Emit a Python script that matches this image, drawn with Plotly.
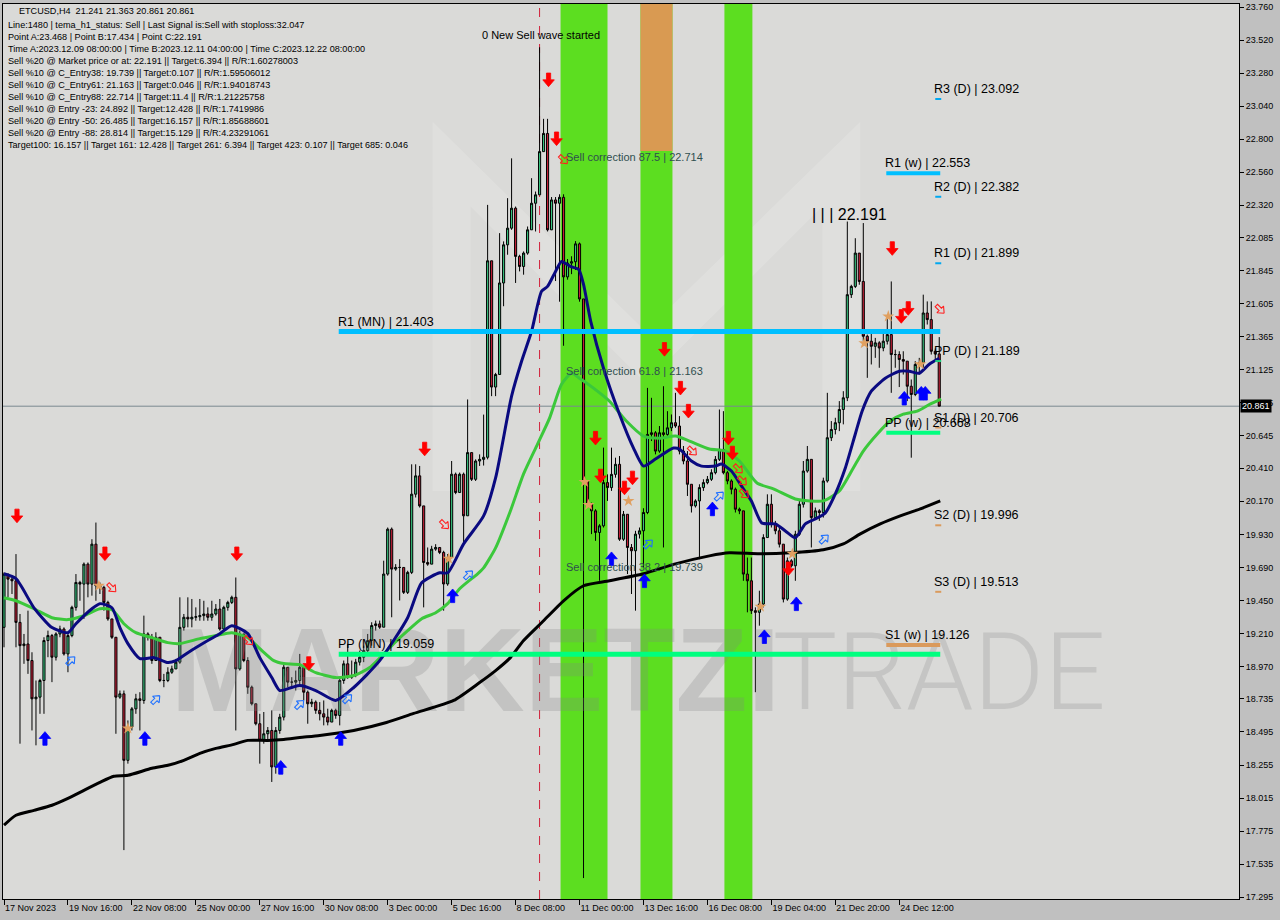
import math
import plotly.graph_objects as go

# ---------------- data ----------------
x_tick_bars = [0, 16, 32, 48, 64, 80, 96, 112, 128, 144, 160, 176, 192, 208, 224]
x_tick_text = ["17 Nov 2023", "19 Nov 16:00", "22 Nov 08:00", "25 Nov 00:00", "27 Nov 16:00",
               "30 Nov 08:00", "3 Dec 00:00", "5 Dec 16:00", "8 Dec 08:00", "11 Dec 00:00",
               "13 Dec 16:00", "16 Dec 08:00", "19 Dec 04:00", "21 Dec 20:00", "24 Dec 12:00"]
y_ticks = [23.760, 23.520, 23.280, 23.040, 22.800, 22.560, 22.320, 22.085, 21.845, 21.605,
           21.365, 21.125, 20.885, 20.645, 20.410, 20.170, 19.930, 19.690, 19.450, 19.210,
           18.970, 18.735, 18.495, 18.255, 18.015, 17.775, 17.535, 17.295]

first_open = 19.255
close = [19.642, 19.605, 19.593, 19.291, 19.122, 19.134, 19.014, 18.736, 18.748, 18.869,
         19.159, 19.195, 19.038, 19.207, 19.243, 19.062, 19.195, 19.400, 19.581, 19.569,
         19.714, 19.569, 19.859, 19.557, 19.545, 19.436, 19.316, 19.183, 18.748, 18.772,
         18.289, 18.531, 18.663, 18.736, 18.724, 19.207, 19.183, 19.014, 19.183, 18.869,
         18.869, 18.929, 18.953, 19.002, 19.255, 19.328, 19.316, 19.328, 19.332, 19.340,
         19.352, 19.328, 19.352, 19.388, 19.243, 19.400, 19.436, 19.473, 18.953, 19.207,
         19.014, 18.820, 18.700, 18.555, 18.434, 18.482, 18.506, 18.241, 18.506, 18.603,
         18.965, 18.857, 18.857, 18.869, 18.965, 18.784, 18.700, 18.712, 18.652, 18.627,
         18.603, 18.567, 18.652, 18.615, 18.869, 18.990, 18.893, 18.905, 19.002, 19.038,
         19.086, 19.159, 19.268, 19.280, 19.256, 19.642, 19.968, 19.678, 19.690, 19.690,
         19.509, 19.654, 20.222, 20.355, 20.137, 19.726, 19.714, 19.823, 19.835, 19.799,
         19.570, 19.763, 20.367, 20.234, 20.367, 20.065, 20.524, 20.330, 20.463, 20.475,
         20.490, 21.917, 21.000, 21.091, 21.756, 22.033, 22.154, 22.299, 21.949, 21.876,
         21.973, 22.142, 22.335, 22.396, 22.710, 22.842, 22.142, 22.359, 22.335, 22.378,
         21.800, 21.900, 21.910, 22.040, 21.640, 20.320, 20.149, 20.101, 19.944, 19.992,
         20.306, 20.270, 20.366, 20.439, 19.895, 20.076, 19.835, 19.811, 19.932, 19.956,
         20.089, 20.656, 20.668, 20.535, 20.668, 20.656, 20.704, 20.741, 20.717, 20.535,
         20.463, 20.294, 20.137, 20.173, 20.270, 20.306, 20.330, 20.378, 20.475, 20.547,
         20.378, 20.318, 20.258, 20.113, 20.101, 19.642, 19.593, 19.376, 19.364, 19.424,
         19.907, 20.149, 20.004, 19.956, 19.859, 19.460, 19.738, 19.702, 19.931, 20.149,
         20.390, 20.475, 20.052, 20.101, 20.089, 20.318, 20.632, 20.692, 20.741, 20.837,
         20.922, 21.671, 21.731, 21.973, 21.767, 21.369, 21.333, 21.296, 21.321, 21.284,
         21.333, 21.381, 21.236, 21.236, 21.200, 21.188, 21.006, 20.946, 21.164, 21.176,
         21.538, 21.490, 21.260, 21.241, 20.861]
high = [19.654, 19.630, 19.617, 19.787, 19.352, 19.207, 19.376, 19.074, 18.869, 18.881,
        19.183, 19.231, 19.207, 19.219, 19.267, 19.255, 19.207, 19.412, 19.642, 19.593,
        19.726, 19.726, 19.895, 20.016, 19.581, 19.557, 19.448, 19.316, 19.183, 18.796,
        18.796, 18.579, 18.676, 18.772, 18.784, 19.340, 19.219, 19.207, 19.219, 19.183,
        18.917, 18.965, 18.977, 19.026, 19.473, 19.352, 19.473, 19.461, 19.400, 19.461,
        19.448, 19.400, 19.448, 19.424, 19.461, 19.412, 19.448, 19.485, 19.617, 19.231,
        19.183, 19.038, 18.832, 18.700, 18.627, 18.640, 18.531, 18.652, 18.531, 18.627,
        18.990, 18.965, 18.893, 18.941, 19.062, 18.965, 18.796, 18.736, 18.724, 18.712,
        18.724, 18.664, 18.664, 18.664, 18.893, 19.014, 19.135, 19.014, 19.026, 19.086,
        19.122, 19.207, 19.292, 19.304, 19.304, 19.739, 19.980, 19.980, 19.714, 19.750,
        19.690, 19.666, 20.439, 20.439, 20.427, 20.137, 19.835, 19.847, 19.859, 19.835,
        19.811, 19.787, 20.463, 20.379, 20.379, 20.379, 20.910, 20.524, 20.475, 20.511,
        20.800, 22.323, 21.917, 21.103, 22.118, 22.058, 22.372, 22.661, 22.311, 21.961,
        21.985, 22.166, 22.517, 22.420, 23.468, 22.948, 22.948, 22.380, 22.380, 22.400,
        22.400, 21.930, 21.950, 22.060, 22.050, 21.640, 20.318, 20.161, 20.113, 20.004,
        20.560, 20.366, 20.560, 20.487, 20.499, 20.100, 20.016, 19.860, 19.956, 19.980,
        20.120, 20.994, 20.922, 20.680, 20.717, 21.006, 20.825, 20.801, 20.958, 20.789,
        20.572, 20.535, 20.294, 20.185, 20.294, 20.330, 20.354, 20.403, 20.499, 20.837,
        20.825, 20.391, 20.330, 20.270, 20.125, 20.040, 19.762, 19.762, 19.400, 19.521,
        19.931, 20.221, 20.221, 20.028, 19.980, 19.859, 19.762, 19.750, 19.956, 20.173,
        20.463, 20.572, 20.475, 20.125, 20.113, 20.342, 20.958, 20.753, 20.777, 20.898,
        20.970, 22.202, 21.743, 22.081, 21.973, 22.191, 21.381, 21.393, 21.357, 21.333,
        21.393, 21.514, 21.767, 21.272, 21.260, 21.260, 21.188, 21.055, 21.188, 21.212,
        21.671, 21.622, 21.622, 21.280, 21.363]
low = [19.110, 19.473, 19.497, 19.110, 18.410, 18.990, 18.917, 18.506, 18.398, 18.627,
       18.627, 19.038, 18.857, 19.014, 19.183, 19.050, 18.929, 19.183, 19.376, 19.448,
       19.316, 19.473, 19.485, 19.448, 19.497, 19.376, 19.303, 19.171, 18.482, 18.736,
       17.637, 18.265, 18.506, 18.627, 18.506, 18.700, 19.159, 18.990, 19.014, 18.857,
       18.820, 18.857, 18.917, 18.953, 18.990, 19.231, 19.255, 19.255, 19.303, 19.303,
       19.303, 19.303, 19.303, 19.340, 19.231, 19.231, 19.376, 19.424, 18.506, 18.941,
       19.002, 18.772, 18.688, 18.543, 18.265, 18.410, 18.434, 18.132, 18.192, 18.482,
       18.579, 18.820, 18.820, 18.796, 18.832, 18.724, 18.555, 18.676, 18.627, 18.579,
       18.543, 18.543, 18.567, 18.591, 18.543, 18.845, 18.881, 18.881, 18.893, 18.978,
       19.002, 19.062, 19.122, 19.231, 19.244, 19.256, 19.630, 19.328, 19.666, 19.450,
       19.497, 19.497, 19.642, 20.198, 20.125, 19.400, 19.702, 19.714, 19.811, 19.787,
       19.376, 19.557, 19.763, 20.222, 20.234, 19.871, 20.065, 20.318, 20.318, 20.427,
       20.430, 20.475, 20.934, 20.934, 21.091, 21.587, 21.961, 22.142, 21.756, 21.840,
       21.816, 21.961, 22.142, 22.130, 22.396, 22.710, 22.130, 22.140, 21.770, 21.620,
       21.300, 21.780, 21.820, 21.850, 21.620, 17.434, 20.125, 19.932, 19.883, 19.593,
       19.980, 20.173, 20.246, 20.342, 19.883, 19.883, 19.642, 19.497, 19.376, 19.900,
       19.690, 20.077, 20.608, 20.511, 20.523, 19.835, 20.644, 20.680, 20.704, 20.511,
       20.439, 20.209, 20.089, 20.125, 19.750, 20.246, 20.294, 20.318, 20.366, 20.463,
       20.366, 20.294, 20.221, 20.089, 20.077, 19.593, 19.364, 19.352, 18.784, 19.267,
       19.400, 19.907, 19.980, 19.931, 19.835, 19.436, 19.448, 19.690, 19.593, 19.919,
       20.125, 20.378, 19.835, 20.040, 20.028, 20.052, 20.306, 20.608, 20.656, 20.680,
       20.729, 20.898, 21.647, 21.719, 21.743, 21.333, 21.067, 21.164, 21.212, 21.140,
       21.260, 21.309, 20.958, 21.140, 21.000, 21.091, 20.898, 20.487, 20.934, 21.091,
       21.140, 21.454, 21.236, 21.200, 20.861]

# moving averages (bar position, price)
ma_blue_x = [0, 3, 7.5, 12, 16, 18, 22, 24, 27, 29, 31, 34, 37.5, 41, 43, 46, 51, 54, 57, 61,
             64, 67, 69, 72, 74, 78, 83, 87.5, 94, 101, 104.5, 109, 111, 115, 120, 123, 127,
             129.5, 132, 134.5, 136, 138, 139.5, 141.7, 143.8, 145, 146.8, 150, 154, 157.5,
             160, 163, 167.5, 169, 172, 174.5, 178, 179.5, 182, 184.5, 187, 189.6, 193, 195.5,
             198, 200.5, 203, 205.5, 208, 210.5, 213, 214.7, 217, 220.5, 224, 226.5, 229,
             231.5, 234]
ma_blue_y = [19.644, 19.608, 19.397, 19.253, 19.216, 19.281, 19.390, 19.427, 19.397, 19.253,
             19.137, 19.028, 19.035, 18.999, 19.013, 19.071, 19.159, 19.209, 19.267, 19.209,
             19.035, 18.890, 18.796, 18.818, 18.832, 18.796, 18.724, 18.818, 19.013, 19.325,
             19.579, 19.651, 19.651, 19.861, 20.064, 20.340, 20.934, 21.187, 21.405, 21.696,
             21.731, 21.840, 21.912, 21.876, 21.854, 21.745, 21.477, 21.137, 20.803, 20.557,
             20.426, 20.477, 20.557, 20.550, 20.463, 20.426, 20.426, 20.441, 20.390, 20.282,
             20.173, 20.013, 20.006, 19.955, 19.905, 20.006, 20.042, 20.086, 20.224, 20.412,
             20.659, 20.825, 20.970, 21.064, 21.115, 21.115, 21.100, 21.166, 21.209]
ma_green_x = [0, 3, 7.5, 12, 16, 20, 24, 27, 30, 33, 37, 41, 44, 49, 53, 57, 61, 64, 67.5, 70,
              74, 78, 83, 87.5, 91.5, 97.5, 101, 104.5, 108, 111, 114, 118.5, 120, 123, 126.7,
              130, 133.5, 136.5, 139.5, 142, 144, 147.5, 151.5, 155.7, 160, 164, 168, 171.5,
              176.5, 180.5, 184, 188.4, 192.5, 198, 201.6, 205, 209, 212.5, 215, 218.5, 221.7,
              225, 228.5, 231.7, 234.5]
ma_green_y = [19.470, 19.448, 19.390, 19.325, 19.311, 19.340, 19.390, 19.383, 19.281, 19.216,
              19.180, 19.144, 19.137, 19.173, 19.195, 19.216, 19.180, 19.100, 19.013, 18.992,
              18.984, 18.926, 18.890, 18.905, 18.963, 19.137, 19.231, 19.318, 19.361, 19.427,
              19.535, 19.644, 19.687, 19.832, 20.100, 20.369, 20.586, 20.774, 21.021, 21.100,
              21.064, 20.992, 20.897, 20.753, 20.644, 20.629, 20.644, 20.608, 20.550, 20.535,
              20.463, 20.303, 20.260, 20.187, 20.173, 20.173, 20.245, 20.412, 20.535, 20.659,
              20.753, 20.803, 20.825, 20.876, 20.912]
ma_black_x = [0, 3, 7.5, 12, 16, 20, 24, 27.5, 31, 37, 41, 45, 49, 53, 57.5, 61, 66, 70, 74, 79,
              87.5, 95.7, 102.5, 112.5, 119, 123, 126.7, 130, 135, 140, 145, 151.5, 160, 168,
              176.5, 181.5, 189, 196.75, 205, 210, 214.25, 219.25, 224.25, 229.25, 234.25]
ma_black_y = [17.818, 17.890, 17.926, 17.963, 18.013, 18.071, 18.129, 18.173, 18.180, 18.231,
              18.253, 18.289, 18.340, 18.376, 18.405, 18.434, 18.434, 18.441, 18.455, 18.470,
              18.506, 18.564, 18.630, 18.724, 18.854, 18.941, 19.035, 19.159, 19.303, 19.448,
              19.557, 19.593, 19.644, 19.716, 19.774, 19.796, 19.789, 19.796, 19.818, 19.861,
              19.934, 20.006, 20.064, 20.115, 20.173]

# pivot levels
monthly_names = ["R1 (MN)", "PP (MN)"]
monthly_levels = [21.403, 19.059]
weekly_names = ["R1 (w)", "PP (w)", "S1 (w)"]
weekly_levels = [22.553, 20.668, 19.126]
daily_names = ["R3 (D)", "R2 (D)", "R1 (D)", "PP (D)", "S1 (D)", "S2 (D)", "S3 (D)"]
daily_levels = [23.092, 22.382, 21.899, 21.189, 20.706, 19.996, 19.513]
corr_names = ["Sell correction 87.5", "Sell correction 61.8", "Sell correction 38.2"]
corr_levels = [22.714, 21.163, 19.739]

point_a_bar = 134
band_bars = [(139.25, 151.0), (159.25, 167.25), (180.25, 187.25)]
last_price = 20.861
point_c = 22.191

# signal markers (bar, price)
red_dn_x = [3.25, 25.25, 58.25, 76.25, 105.25, 136.25, 138.25, 148, 149.25, 155.25, 157.25,
            165.25, 169.25, 171.25, 181.25, 182.25, 196.25, 222.25, 224.5, 226.25]
red_dn_y = [20.064, 19.789, 19.789, 18.992, 20.550, 23.231, 22.803, 20.629, 20.354, 20.267,
            20.340, 21.274, 20.992, 20.825, 20.629, 20.521, 19.680, 22.006, 21.513, 21.571]
blue_up_x = [10.25, 35.25, 69.25, 84.25, 112.25, 152, 160.25, 177.25, 190.25, 198.25, 225.25,
             229.5, 230.5]
blue_up_y = [18.448, 18.448, 18.238, 18.448, 19.484, 19.753, 19.593, 20.115, 19.187, 19.426,
             20.919, 20.955, 20.955]
hollow_blue_x = [16.75, 38, 74, 86, 116.25, 161.25, 179, 205.25]
hollow_blue_y = [19.013, 18.731, 18.695, 18.738, 19.637, 19.861, 20.209, 19.897]
hollow_red_x = [27, 61.25, 110.25, 140, 172.25, 183.75, 184.75, 185.25, 234.25]
hollow_red_y = [19.542, 19.158, 20.000, 22.651, 20.535, 20.405, 20.318, 20.224, 21.564]
star_x = [23.75, 31, 111.25, 145.25, 146.25, 156.25, 189.25, 197.25, 215.25, 221.25, 229.25]
star_y = [19.557, 18.521, 19.753, 20.311, 20.144, 20.173, 19.405, 19.789, 21.318, 21.513, 21.166]

info_lines = [
    "ETCUSD,H4  21.241 21.363 20.861 20.861",
    "Line:1480 | tema_h1_status: Sell | Last Signal is:Sell with stoploss:32.047",
    "Point A:23.468 | Point B:17.434 | Point C:22.191",
    "Time A:2023.12.09 08:00:00 | Time B:2023.12.11 04:00:00 | Time C:2023.12.22 08:00:00",
    "Sell %20 @ Market price or at: 22.191 || Target:6.394 || R/R:1.60278003",
    "Sell %10 @ C_Entry38: 19.739 || Target:0.107 || R/R:1.59506012",
    "Sell %10 @ C_Entry61: 21.163 || Target:0.046 || R/R:1.94018743",
    "Sell %10 @ C_Entry88: 22.714 || Target:11.4 || R/R:1.21225758",
    "Sell %10 @ Entry -23: 24.892 || Target:12.428 || R/R:1.7419986",
    "Sell %20 @ Entry -50: 26.485 || Target:16.157 || R/R:1.85688601",
    "Sell %20 @ Entry -88: 28.814 || Target:15.129 || R/R:4.23291061",
    "Target100: 16.157 || Target 161: 12.428 || Target 261: 6.394 || Target 423: 0.107 || Target 685: 0.046",
]

# ---------------- figure ----------------
n = len(close)
bars = list(range(n))
opens = [first_open] + close[:-1]
hi = [max(h, o, c) for h, o, c in zip(high, opens, close)]
lo = [min(l, o, c) for l, o, c in zip(low, opens, close)]

FONT = "Liberation Sans"
PW, PH, PL, PT = 1237.0, 897.0, 2.0, 2.0
PX_PER_BAR = 4.0
PX_PER_PRICE = 138.0


def px(xp):
    return (xp - PL) / PW


def py(yp):
    return 1 - (yp - PT) / PH


# arrow glyph outline in screen pixels, pointing up, centred on (0, 0)
ARROW = [(0, -6.5), (5.5, 0), (2, 0), (2, 6.5), (-2, 6.5), (-2, 0), (-5.5, 0), (0, -6.5)]


def arrow_paths(xs, ys, angle, scale=1.0):
    ox, oy = [], []
    a = math.radians(angle)
    ca, sa = math.cos(a), math.sin(a)
    for cx, cy in zip(xs, ys):
        for dx, dy in ARROW:
            dx, dy = dx * scale, dy * scale
            rx = dx * ca - dy * sa
            ry = dx * sa + dy * ca
            ox.append(cx + rx / PX_PER_BAR)
            oy.append(cy - ry / PX_PER_PRICE)
        ox.append(None)
        oy.append(None)
    return ox, oy


fig = go.Figure()

# watermark (behind candles)
fig.add_trace(go.Scatter(x=[118.0], y=[18.86], mode="text", text=["MARKETZI"],
                         textfont=dict(family=FONT, size=118, color="rgba(130,130,130,0.26)", weight="bold"),
                         hoverinfo="skip", showlegend=False))
fig.add_trace(go.Scatter(x=[234.0], y=[18.86], mode="text", text=["TRADE"],
                         textfont=dict(family="Roboto", size=108, color="rgba(140,140,140,0.26)", weight=300),
                         hoverinfo="skip", showlegend=False))

fig.add_trace(go.Candlestick(
    x=bars, open=opens, high=hi, low=lo, close=close,
    increasing=dict(line=dict(color="black", width=1), fillcolor="#38C47F"),
    decreasing=dict(line=dict(color="black", width=1), fillcolor="#C42038"),
    whiskerwidth=0, hoverinfo="skip", showlegend=False))

fig.add_trace(go.Scatter(x=ma_black_x, y=ma_black_y, mode="lines",
                         line=dict(color="black", width=3, shape="spline", smoothing=0.6),
                         hoverinfo="skip", showlegend=False))
fig.add_trace(go.Scatter(x=ma_green_x, y=ma_green_y, mode="lines",
                         line=dict(color="#3BC83B", width=3, shape="spline", smoothing=0.6),
                         hoverinfo="skip", showlegend=False))
fig.add_trace(go.Scatter(x=ma_blue_x, y=ma_blue_y, mode="lines",
                         line=dict(color="#0A0A80", width=3, shape="spline", smoothing=0.6),
                         hoverinfo="skip", showlegend=False))

# pivot lines
m_colors = ["#00BFFF", "#00FF7F"]
for lvl, col in zip(monthly_levels, m_colors):
    fig.add_trace(go.Scatter(x=[83.75, 234.25], y=[lvl, lvl], mode="lines",
                             line=dict(color=col, width=5), hoverinfo="skip", showlegend=False))
w_colors = ["#00BFFF", "#00FF7F", "#DA9A5C"]
for lvl, col in zip(weekly_levels, w_colors):
    fig.add_trace(go.Scatter(x=[220.75, 234.25], y=[lvl, lvl], mode="lines",
                             line=dict(color=col, width=4), hoverinfo="skip", showlegend=False))
d_colors = ["#00A8F0", "#00A8F0", "#00A8F0", "#20D080", "#DA9A5C", "#DA9A5C", "#DA9A5C"]
for lvl, col in zip(daily_levels, d_colors):
    fig.add_trace(go.Scatter(x=[233.0, 234.5], y=[lvl, lvl], mode="lines",
                             line=dict(color=col, width=2), hoverinfo="skip", showlegend=False))

# hollow diagonal arrows
hx, hy = arrow_paths(hollow_blue_x, hollow_blue_y, 45, 0.85)
fig.add_trace(go.Scatter(x=hx, y=hy, mode="lines", line=dict(color="#1E70FF", width=1.1),
                         hoverinfo="skip", showlegend=False))
hx, hy = arrow_paths(hollow_red_x, hollow_red_y, 135, 0.85)
fig.add_trace(go.Scatter(x=hx, y=hy, mode="lines", line=dict(color="#FF2020", width=1.1),
                         hoverinfo="skip", showlegend=False))
# filled signal arrows
ax_, ay_ = arrow_paths(red_dn_x, red_dn_y, 180, 1.05)
fig.add_trace(go.Scatter(x=ax_, y=ay_, mode="lines", fill="toself", fillcolor="#FF0000",
                         line=dict(color="#FF0000", width=0.8), hoverinfo="skip", showlegend=False))
ax_, ay_ = arrow_paths(blue_up_x, blue_up_y, 0, 1.05)
fig.add_trace(go.Scatter(x=ax_, y=ay_, mode="lines", fill="toself", fillcolor="#0000FF",
                         line=dict(color="#0000FF", width=0.8), hoverinfo="skip", showlegend=False))
fig.add_trace(go.Scatter(x=star_x, y=star_y, mode="markers",
                         marker=dict(symbol="star", size=9, color="#E0A060",
                                     line=dict(width=0)),
                         hoverinfo="skip", showlegend=False))

shapes = []
# faint logo watermark in the background
logo_pts = [(432, 120), (645, 330), (860, 120), (860, 490), (822, 490), (822, 205),
            (645, 382), (470, 205), (470, 490), (432, 490)]
path = "M " + " L ".join(f"{px(a):.4f},{py(b):.4f}" for a, b in logo_pts) + " Z"
shapes.append(dict(type="path", xref="paper", yref="paper", path=path,
                   fillcolor="rgba(255,255,255,0.15)", line=dict(width=0), layer="below"))
for (b0, b1) in band_bars:
    shapes.append(dict(type="rect", xref="x", yref="paper", x0=b0, x1=b1, y0=0, y1=1,
                       fillcolor="#5CDE20", line=dict(width=0), layer="below"))
b0, b1 = band_bars[1]
shapes.append(dict(type="rect", xref="x", yref="y", x0=b0, x1=b1, y0=corr_levels[0], y1=24.5,
                   fillcolor="#D99A52", line=dict(width=0), layer="below"))
shapes.append(dict(type="line", xref="x", yref="paper", x0=point_a_bar, x1=point_a_bar, y0=0, y1=1,
                   line=dict(color="#D0203A", width=1, dash="dash"), layer="below"))
shapes.append(dict(type="line", xref="paper", yref="y", x0=0, x1=1, y0=last_price, y1=last_price,
                   line=dict(color="#7A8890", width=1), layer="below"))

ann = []
# info text
ys = [9, 23, 35, 47, 59, 71, 83, 95, 107, 119, 131, 143]
for i, (t, yc) in enumerate(zip(info_lines, ys)):
    ann.append(dict(xref="paper", yref="paper", x=0, y=1, xanchor="left", yanchor="middle",
                    xshift=(14 if i == 0 else 3), yshift=-(yc - 2), text=t, showarrow=False,
                    font=dict(family=FONT, size=9.1, color="black")))

# level labels
for nm, lvl in zip(monthly_names, monthly_levels):
    ann.append(dict(x=83.75, y=lvl, xanchor="left", yanchor="middle", xshift=-3, yshift=10,
                    text=f"{nm} | {lvl:.3f}", showarrow=False,
                    font=dict(family=FONT, size=12.5, color="black")))
for nm, lvl in zip(weekly_names, weekly_levels):
    ann.append(dict(x=220.75, y=lvl, xanchor="left", yanchor="middle", xshift=-3, yshift=10,
                    text=f"{nm} | {lvl:.3f}", showarrow=False,
                    font=dict(family=FONT, size=12.5, color="black")))
for nm, lvl in zip(daily_names, daily_levels):
    ann.append(dict(x=233.0, y=lvl, xanchor="left", yanchor="middle", xshift=-3, yshift=10,
                    text=f"{nm} | {lvl:.3f}", showarrow=False,
                    font=dict(family=FONT, size=12.5, color="black")))
for nm, lvl in zip(corr_names, corr_levels):
    ann.append(dict(x=141.0, y=lvl, xanchor="left", yanchor="middle", xshift=-4, yshift=-6,
                    text=f"{nm} | {lvl:.3f}", showarrow=False,
                    font=dict(family=FONT, size=11, color="#2F4F4F")))
ann.append(dict(x=202.5, y=point_c, xanchor="left", yanchor="middle", xshift=-3, yshift=9,
                text=f"| | | {point_c:.3f}", showarrow=False,
                font=dict(family=FONT, size=16, color="black")))
ann.append(dict(x=120.0, yref="paper", y=1, xanchor="left", yanchor="middle", xshift=-4, yshift=-31,
                text="0 New Sell wave started", showarrow=False,
                font=dict(family=FONT, size=11, color="black")))
# price box
ann.append(dict(xref="paper", x=1, y=last_price, xanchor="left", yanchor="middle", xshift=1,
                text=f"{last_price:.3f}", showarrow=False, bgcolor="black",
                font=dict(family=FONT, size=9, color="white"), borderpad=1))

fig.update_layout(
    width=1280, height=920,
    margin=dict(l=2, r=41, t=2, b=21),
    paper_bgcolor="#C0C0C0", plot_bgcolor="#DADAD8",
    showlegend=False, boxgap=0.25,
    shapes=shapes, annotations=ann,
    font=dict(family=FONT, size=9, color="black"),
)
fig.update_xaxes(range=[-0.25, 309.0], showgrid=False, zeroline=False, rangeslider_visible=False,
                 tickmode="array", tickvals=x_tick_bars, ticktext=x_tick_text,
                 ticks="outside", ticklen=5, tickcolor="black", ticklabelposition="outside right",
                 showline=True, linecolor="black", linewidth=1, mirror=True,
                 tickfont=dict(family=FONT, size=9, color="black"), fixedrange=True)
fig.update_yaxes(range=[17.282, 23.782], side="right", showgrid=False, zeroline=False,
                 tickmode="array", tickvals=y_ticks, ticktext=[f"{v:.3f}" for v in y_ticks],
                 ticks="outside", ticklen=4, tickcolor="black",
                 showline=True, linecolor="black", linewidth=1, mirror=True,
                 tickfont=dict(family=FONT, size=9, color="black"), fixedrange=True)

fig.write_html("out.html", config={"displayModeBar": False},
               post_script="document.body.style.margin='0px';document.body.style.overflow='hidden';")
